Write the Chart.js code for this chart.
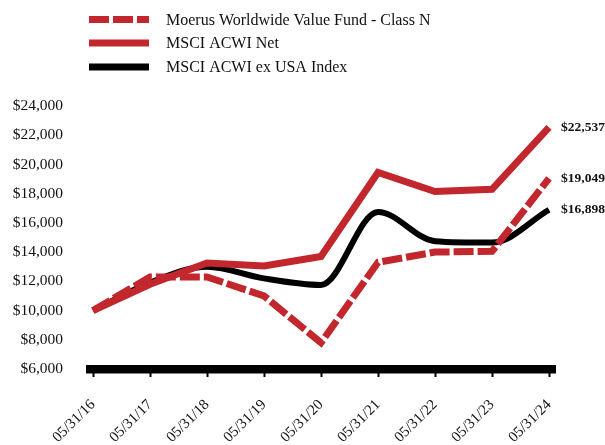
<!DOCTYPE html>
<html>
<head>
<meta charset="utf-8">
<script src="https://cdn.jsdelivr.net/npm/chart.js@4/dist/chart.umd.min.js"></script>
<style>
  body { margin: 0; background: #fff; }
</style>
</head>
<body>
<canvas id="myChart" width="605" height="445"></canvas>
<script>
const dates = ['05/31/16', '05/31/17', '05/31/18', '05/31/19', '05/31/20', '05/31/21', '05/31/22', '05/31/23', '05/31/24'];
const moerus = [10000, 12300, 12300, 11000, 7800, 13300, 14000, 14050, 19049];
const acwiNet = [10000, 11800, 13250, 13050, 13700, 19450, 18150, 18300, 22537];
const acwiExUsa = [10000, 11900, 13000, 12200, 11750, 16750, 14750, 14650, 16898];
const endLabels = ['$22,537', '$19,049', '$16,898'];

const RED = '#C1272D';
const FONT = "'Liberation Serif', 'Times New Roman', serif";

const ctx = document.getElementById('myChart');

// legend drawn by hand, stacked like the original
const legendPlugin = {
    id: 'stackLegend',
    afterDraw(chart) {
        const c = chart.ctx;
        const rows = [19.5, 43, 67];
        c.save();
        chart.data.datasets.forEach((ds, i) => {
            const y = rows[i];
            c.beginPath();
            c.strokeStyle = ds.borderColor;
            c.lineWidth = 7;
            c.lineCap = 'butt';
            c.setLineDash(ds.borderDash || []);
            c.moveTo(89, y);
            c.lineTo(149, y);
            c.stroke();
            c.setLineDash([]);
            c.fillStyle = '#111';
            c.font = '16px ' + FONT;
            c.textBaseline = 'middle';
            c.textAlign = 'left';
            c.fillText(ds.label, 166, y + 1);
        });
        c.restore();
    }
};

// thick base line and value labels at the last point
const extrasPlugin = {
    id: 'extras',
    beforeDatasetsDraw(chart) {
        const c = chart.ctx;
        const area = chart.chartArea;
        c.save();
        c.fillStyle = '#000';
        c.fillRect(area.left - 7, area.bottom - 4, area.right - area.left + 14, 8.5);
        c.restore();
    },
    afterDatasetsDraw(chart) {
        const c = chart.ctx;
        const xs = chart.scales.x;
        const ys = chart.scales.y;
        const last = dates.length - 1;
        const ends = [acwiNet[last], moerus[last], acwiExUsa[last]];
        c.save();
        c.fillStyle = '#111';
        c.font = 'bold 13.5px ' + FONT;
        c.textBaseline = 'middle';
        c.textAlign = 'left';
        ends.forEach((v, i) => {
            c.fillText(endLabels[i], xs.getPixelForValue(last) + 12, ys.getPixelForValue(v));
        });
        c.restore();
    }
};

new Chart(ctx, {
    type: 'line',
    data: {
        labels: dates,
        datasets: [{
            label: 'Moerus Worldwide Value Fund - Class N',
            data: moerus,
            borderColor: RED,
            borderWidth: 7,
            borderDash: [20, 4],
            borderCapStyle: 'butt',
            tension: 0,
            pointRadius: 0
        }, {
            label: 'MSCI ACWI Net',
            data: acwiNet,
            borderColor: RED,
            borderWidth: 7,
            tension: 0,
            pointRadius: 0
        }, {
            label: 'MSCI ACWI ex USA Index',
            data: acwiExUsa,
            borderColor: '#000',
            borderWidth: 6,
            tension: 0.4,
            cubicInterpolationMode: 'monotone',
            pointRadius: 0
        }]
    },
    options: {
        responsive: false,
        animation: false,
        devicePixelRatio: 1,
        layout: {
            padding: { top: 106, right: 56, left: 0, bottom: 0 }
        },
        scales: {
            x: {
                grid: {
                    display: true,
                    drawOnChartArea: false,
                    drawTicks: true,
                    tickLength: 8,
                    tickWidth: 2,
                    tickColor: '#000',
                    color: '#000'
                },
                border: { display: false },
                ticks: {
                    maxRotation: 45,
                    minRotation: 45,
                    padding: 19,
                    color: '#111',
                    font: { family: FONT, size: 15 }
                },
                afterFit(scale) {
                    scale.height = 76;
                }
            },
            y: {
                min: 6000,
                max: 24000,
                grid: { display: false, drawTicks: false },
                border: { display: false },
                ticks: {
                    stepSize: 2000,
                    padding: 30,
                    color: '#111',
                    font: { family: FONT, size: 15.5 },
                    callback: v => '$' + v.toLocaleString('en-US')
                },
                afterFit(scale) {
                    scale.width = 93;
                }
            }
        },
        plugins: {
            legend: { display: false },
            tooltip: { enabled: false }
        }
    },
    plugins: [legendPlugin, extrasPlugin]
});
</script>
</body>
</html>
